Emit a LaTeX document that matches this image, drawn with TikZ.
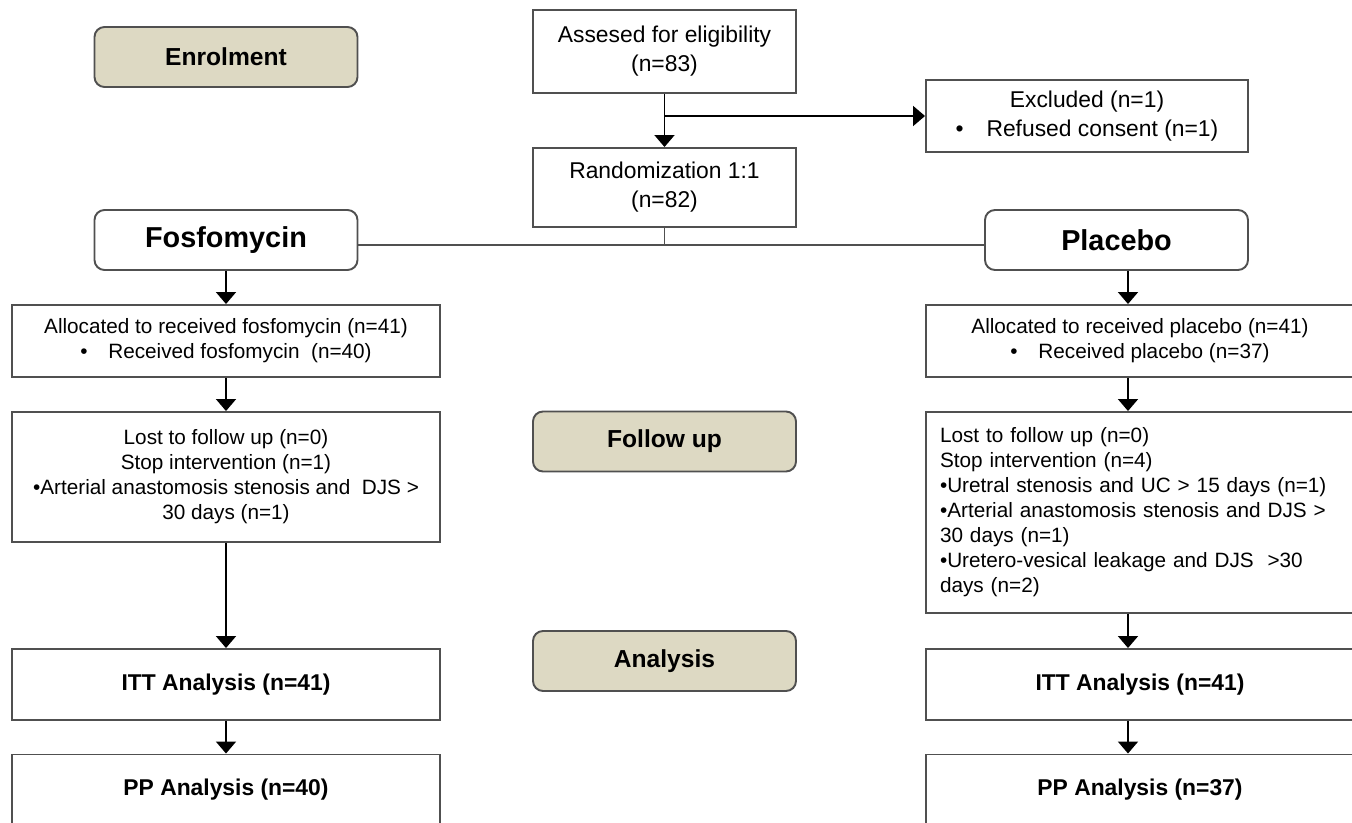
\documentclass[tikz,border=0pt]{standalone}
\usepackage{fontspec}
\setmainfont{Liberation Sans}
\usetikzlibrary{arrows.meta}

\definecolor{stagefill}{HTML}{DDD9C3}
\definecolor{boxline}{HTML}{505050}

\tikzset{
  box/.style={draw=boxline, line width=1.1pt, rectangle, align=center, font=\fontsize{11.8}{14.2}\selectfont},
  topbox/.style={box, minimum width=5.26cm, font=\fontsize{13}{16.5}\selectfont},
  wide/.style={box, minimum width=8.56cm},
  stage/.style={draw=boxline, line width=1.1pt, rounded corners=0.2cm, fill=stagefill, minimum width=5.26cm, minimum height=1.2cm, font=\fontsize{14}{16}\selectfont\bfseries},
  arm/.style={draw=boxline, line width=1.1pt, rounded corners=0.2cm, minimum width=5.26cm, minimum height=1.2cm, font=\fontsize{16.4}{19}\selectfont\bfseries},
  result/.style={wide, minimum height=1.42cm, font=\fontsize{13}{16}\selectfont\bfseries},
  arrow/.style={-{Triangle[width=0.4cm,length=0.24cm]}, line width=1pt},
  link/.style={draw=boxline, line width=1.1pt}
}

\begin{document}
\begin{tikzpicture}
\useasboundingbox (0,0) rectangle (27.04,-16.46);
\clip (0,0) rectangle (27.04,-16.46);

% stage labels
\node (enrol)[stage] at (4.52,-1.14) {Enrolment};
\node (followup)[stage] at (13.29,-8.83) {Follow up};
\node (analysis)[stage] [below of=followup, node distance=4.39cm] {Analysis};

% enrolment
\node (assess)[topbox, minimum height=1.66cm] at (13.29,-1.03) {Assesed for eligibility\\(n=83)};
\node (rand)[topbox, minimum height=1.58cm] [below of=assess, node distance=2.72cm] {Randomization 1:1\\(n=82)};
\node (excl)[topbox, minimum width=6.44cm, minimum height=1.44cm] at (21.74,-2.32) {Excluded (n=1)\\\textbullet\hspace{1em}Refused consent (n=1)};

% fosfomycin arm
\node (fos)[arm] at (4.52,-4.8) {Fosfomycin};
\node (falloc)[wide, minimum height=1.44cm] [below of=fos, node distance=2.02cm] {Allocated to received fosfomycin (n=41)\\\textbullet\hspace{1em}Received fosfomycin\ \ (n=40)};
\node (ffollow)[wide, minimum height=2.6cm] [below of=falloc, node distance=2.72cm] {Lost to follow up (n=0)\\Stop intervention (n=1)\\\textbullet Arterial anastomosis stenosis and\ \ DJS >\\30 days (n=1)};
\node (fitt)[result] [below of=ffollow, node distance=4.15cm] {ITT Analysis (n=41)};
\node (fpp)[result] [below of=fitt, node distance=2.11cm] {PP Analysis (n=40)};

% placebo arm
\node (plac)[arm] at (22.33,-4.8) {Placebo};
\node (palloc)[wide, minimum height=1.44cm] at (22.8,-6.82) {Allocated to received placebo (n=41)\\\textbullet\hspace{1em}Received placebo (n=37)};
\node (pfollow)[wide, minimum height=4.02cm, text width=8cm, inner xsep=0.28cm, align=left] [below of=palloc, node distance=3.43cm] {Lost to follow up (n=0)\\Stop intervention (n=4)\\\textbullet Uretral stenosis and UC > 15 days (n=1)\\\textbullet Arterial anastomosis stenosis and DJS >\\30 days (n=1)\\\textbullet Uretero-vesical leakage and DJS\ \ >30\\days (n=2)};
\node (pitt)[result] [below of=pfollow, node distance=3.44cm] {ITT Analysis (n=41)};
\node (ppp)[result] [below of=pitt, node distance=2.11cm] {PP Analysis (n=37)};

% connectors
\coordinate (split) at ([yshift=-0.1cm]fos.east -| rand.south);
\draw[arrow] (assess) -- (rand);
\draw[arrow] (assess.south |- excl.west) -- (excl);
\draw[link] (rand.south) -- (split);
\draw[link] ([yshift=-0.1cm]fos.east) -- ([yshift=-0.1cm]plac.west);
\draw[arrow] (fos) -- (falloc);
\draw[arrow] (falloc) -- (ffollow);
\draw[arrow] (ffollow) -- (fitt);
\draw[arrow] (fitt) -- (fpp);
\draw[arrow] ([xshift=0.23cm]plac.south) -- ([xshift=-0.24cm]palloc.north);
\draw[arrow] ([xshift=-0.24cm]palloc.south) -- ([xshift=-0.24cm]pfollow.north);
\draw[arrow] ([xshift=-0.24cm]pfollow.south) -- ([xshift=-0.24cm]pitt.north);
\draw[arrow] ([xshift=-0.24cm]pitt.south) -- ([xshift=-0.24cm]ppp.north);
\end{tikzpicture}
\end{document}
